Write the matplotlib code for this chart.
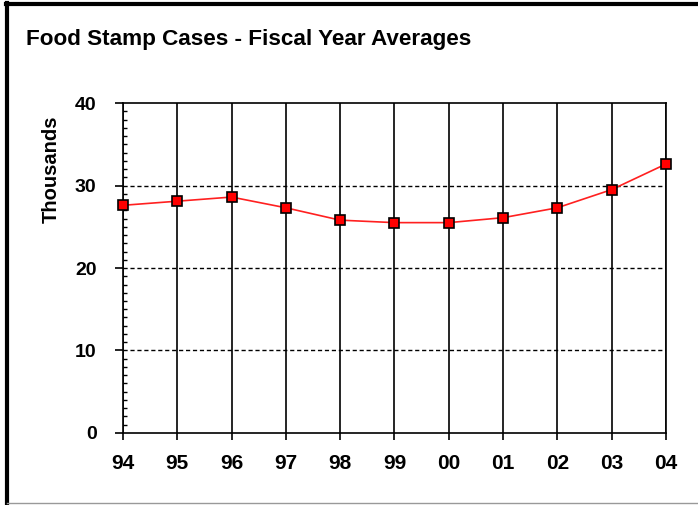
import matplotlib
matplotlib.use('Agg')
import matplotlib.pyplot as plt
from matplotlib.lines import Line2D
from matplotlib.ticker import MultipleLocator

years = ['94', '95', '96', '97', '98', '99', '00', '01', '02', '03', '04']
cases = [27.6, 28.1, 28.6, 27.3, 25.8, 25.5, 25.5, 26.1, 27.3, 29.5, 32.6]

plt.rcParams['font.family'] = ['Liberation Sans', 'DejaVu Sans']

fig = plt.figure(figsize=(6.98, 5.05), dpi=100)
ax = fig.add_axes([0.1762, 0.1426, 0.954 - 0.1762, 0.796 - 0.1426])

x = list(range(len(years)))
ax.plot(x, cases, color='#ff2020', linewidth=1.2, marker='s', markersize=7.5,
        markerfacecolor='#ff0000', markeredgecolor='black', markeredgewidth=1.2,
        zorder=5, clip_on=False)

ax.set_xlim(0, len(years) - 1)
ax.set_ylim(0, 40)
ax.set_xticks(x)
ax.set_xticklabels(years)
ax.set_yticks([0, 10, 20, 30, 40])
ax.yaxis.set_minor_locator(MultipleLocator(1))

for v in x:
    ax.axvline(v, color='black', linewidth=1.2, zorder=1)
for v in [10, 20, 30]:
    ax.axhline(v, color='black', linewidth=1.0, linestyle=(0, (3, 2)), zorder=1)

for s in ax.spines.values():
    s.set_linewidth(1.2)

ax.tick_params(axis='x', direction='out', length=5, width=1.2, pad=10, labelsize=15)
ax.tick_params(axis='y', which='major', direction='out', length=6, width=1.2, pad=13, labelsize=14)
ax.tick_params(axis='y', which='minor', direction='in', length=3, width=1.0)
for lab in ax.get_xticklabels() + ax.get_yticklabels():
    lab.set_fontweight('bold')

ax.set_ylabel('Thousands', fontsize=14.5, fontweight='bold')
ax.yaxis.set_label_coords(-0.114, 0.80)

fig.text(26 / 698, 1 - 45 / 505, 'Food Stamp Cases - Fiscal Year Averages',
         fontsize=16.2, fontweight='bold', va='baseline', ha='left')

# outer frame
fig.add_artist(Line2D([7.5 / 698, 7.5 / 698], [0, 1 - 3 / 505], color='black', linewidth=3,
                      transform=fig.transFigure))
fig.add_artist(Line2D([6 / 698, 1], [1 - 4 / 505, 1 - 4 / 505], color='black', linewidth=3,
                      transform=fig.transFigure))
fig.add_artist(Line2D([7 / 698, 1], [2 / 505, 2 / 505], color='#999999', linewidth=1,
                      transform=fig.transFigure))

fig.savefig('out.png', dpi=100)
